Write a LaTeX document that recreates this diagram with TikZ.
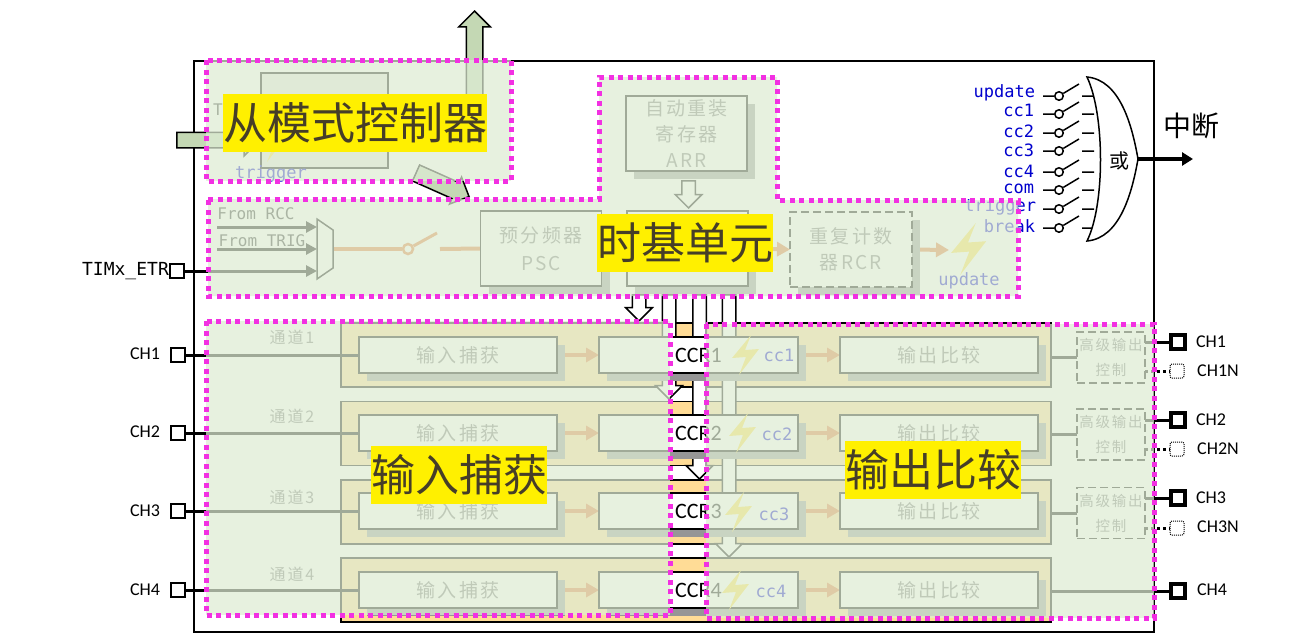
\documentclass[tikz,border=0pt]{standalone}
\usepackage{fontspec}
\usepackage{xcolor}
\usepackage{tikz}
\usetikzlibrary{arrows.meta}
\usetikzlibrary{backgrounds}
\usetikzlibrary{shadows}
\usetikzlibrary{shapes,shapes.arrows}
\setmainfont{Carlito}
\newfontfamily\cjk{Noto Sans CJK SC}
\newfontfamily\cjkw[LetterSpace=12]{Noto Sans CJK SC}
\newfontfamily\mono{DejaVu Sans Mono}
\pgfdeclarelayer{edgelayer}
\pgfdeclarelayer{nodelayer}
\pgfsetlayers{background,edgelayer,nodelayer,main}
\definecolor{veil}{RGB}{222,236,212}
\definecolor{chanfill}{RGB}{255,220,150}
\definecolor{dropgray}{RGB}{150,150,150}
\definecolor{wiretan}{RGB}{228,118,50}
\definecolor{dotpink}{RGB}{242,48,226}
\definecolor{tagyellow}{RGB}{255,240,0}
\definecolor{tagtext}{RGB}{70,62,40}
\definecolor{blockgreen}{RGB}{196,216,180}
\definecolor{boltyellow}{RGB}{255,225,70}
\definecolor{irqblue}{RGB}{0,0,205}
\tikzstyle{none}=[inner sep=0mm]
\tikzstyle{plain}=[inner sep=0pt,outer sep=0pt,align=center]
\tikzstyle{longdash}=[dash pattern=on 8pt off 4pt]
\tikzstyle{chan}=[plain,draw=black,line width=1.5pt,fill=chanfill,minimum width=710pt,minimum height=64pt]
\tikzstyle{drop}=[copy shadow={shadow xshift=8pt,shadow yshift=-8pt,fill=dropgray,draw=none}]
\tikzstyle{wbox}=[plain,draw=black,line width=1.5pt,fill=white,drop]
\tikzstyle{ibox}=[wbox,minimum width=198pt,minimum height=36pt,text=black!55,font=\fontsize{19}{24}\selectfont\cjkw]
\tikzstyle{ccrbox}=[ibox,minimum width=199pt,text=black,font=\fontsize{22}{24}\selectfont]
\tikzstyle{tbox}=[wbox,minimum width=121pt,minimum height=75pt,text=black!55,font=\fontsize{19}{26}\selectfont\cjkw]
\tikzstyle{advbox}=[plain,draw=black,line width=1.2pt,longdash,fill=white,minimum width=68pt,minimum height=51pt,text=black!55,font=\fontsize{14.5}{25}\selectfont\cjkw]
\tikzstyle{pin}=[plain,draw=black,line width=1.5pt,fill=white,minimum size=14pt]
\tikzstyle{pout}=[pin,line width=3.5pt,minimum size=14pt]
\tikzstyle{poutn}=[plain,draw=black,line width=1pt,densely dotted,rounded corners=2pt,fill=white,minimum size=14pt]
\tikzstyle{chtext}=[plain,font=\fontsize{18}{18}\selectfont]
\tikzstyle{ttext}=[plain,text=black!55,font=\fontsize{16}{16}\selectfont\cjkw]
\tikzstyle{mtext}=[plain,text=black!85,font=\fontsize{16}{16}\selectfont\mono]
\tikzstyle{irq}=[plain,anchor=east,text=irqblue,font=\fontsize{17}{17}\selectfont\mono]
\tikzstyle{swc}=[shape=circle,draw=black,line width=1.5pt,fill=white,inner sep=0pt,minimum size=8.5pt]
\tikzstyle{wire}=[line width=3pt,black]
\tikzstyle{wiren}=[line width=3pt,black,dash pattern=on 3pt off 3pt]
\tikzstyle{gwire}=[wire,-{Triangle[length=11pt,width=11pt]}]
\tikzstyle{twire}=[line width=4pt,wiretan,-{Triangle[length=13pt,width=14pt]}]
\tikzstyle{tline}=[line width=4pt,wiretan]
\tikzstyle{bolt}=[fill=boltyellow,draw=none]
\tikzstyle{block}=[shape=single arrow,single arrow head indent=0pt,draw=black,line width=1.5pt,anchor=tip]
\tikzstyle{wblock}=[block,fill=white,inner sep=6pt,single arrow head extend=6.5pt]
\tikzstyle{gblock}=[block,fill=blockgreen,inner sep=7.5pt,single arrow head extend=7.5pt]
\tikzstyle{region}=[fill=veil,fill opacity=0.72,draw=dotpink,line width=5pt,dash pattern=on 5pt off 4.5pt]
\tikzstyle{tag}=[plain,fill=tagyellow,text=tagtext,minimum width=176pt,minimum height=58pt,font=\fontsize{44}{44}\selectfont\cjk]
\begin{document}
\begin{tikzpicture}[x=1pt,y=-1pt]
	\useasboundingbox (0, 0) rectangle (1314, 633);
	\begin{pgfonlayer}{background}
		\fill [white] (0, 0) rectangle (1314, 633);
		\draw [line width=1.3pt, fill=white] (194, 61) rectangle (1154, 632);
		\node [style=chan] (ch1) at (696, 355) {};
		\node [style=chan] (ch2) at (696, 433.5) {};
		\node [style=chan] (ch3) at (696, 512) {};
		\node [style=chan] (ch4) at (696, 590) {};
	\end{pgfonlayer}
	\begin{pgfonlayer}{nodelayer}
		% slave mode controller
		\node [style=plain, draw=black, line width=1.5pt, fill={rgb,255:red,230;green,232;blue,225}, minimum width=127pt, minimum height=95pt] (smc) at (324.5, 120.5) {};
		\node [style=mtext] (ttl) at (218, 110) {T};
		\node [style=irq, anchor=center, text=irqblue] (trg) at (271, 174) {trigger};
		% time base
		\node [style=tbox] (arr) at (686.5, 133.5) {自动重装\\寄存器\\ARR};
		\node [style=tbox] (cnt) at (687.5, 248.5) {};
		\node [style=tbox] (psc) at (541, 248.5) {预分频器\\[2pt]PSC};
		\node [style=tbox, longdash, minimum width=122pt] (rcr) at (851, 249.5) {重复计数\\器RCR};
		\node [style=mtext] (frcc) at (256, 213.5) {From RCC};
		\node [style=mtext] (ftrig) at (262, 240.5) {From TRIG};
		\node [style=swc, minimum size=10pt, line width=2.5pt, draw=wiretan] (csw) at (408, 249) {};
		\node [style=irq, anchor=center] (upd) at (969, 281) {update};
		\node [style=pin] (petr) at (177, 271) {};
		\node [style=chtext, font=\fontsize{18}{18}\selectfont\mono] (letr) at (125.5, 271) {TIMx\_ETR};
		\node [style=none] (m1) at (317, 227) {};
		\node [style=none] (m2) at (317, 249) {};
		\node [style=none] (m3) at (317, 271) {};
		\node [style=none] (f1) at (217, 227) {};
		\node [style=none] (f2) at (217, 249) {};
		\node [style=none] (mo) at (334, 249) {};
		\node [style=none] (st) at (437, 233) {};
		\node [style=none] (so) at (440, 249) {};
		\node [style=none] (ub) at (949, 250) {};
		% channels
		\node [style=ttext] (t1) at (292, 337) {通道1};
		\node [style=ttext] (t2) at (292, 416) {通道2};
		\node [style=ttext] (t3) at (292, 497) {通道3};
		\node [style=ttext] (t4) at (292, 574) {通道4};
		\node [style=ibox] (ic1) at (458, 355) {输入捕获};
		\node [style=ibox] (ic2) at (458, 433) {输入捕获};
		\node [style=ibox] (ic3) at (458, 511) {输入捕获};
		\node [style=ibox] (ic4) at (458, 590) {输入捕获};
		\node [style=ccrbox] (ccr1) at (698.5, 355) {CCR1};
		\node [style=ccrbox] (ccr2) at (698.5, 433) {CCR2};
		\node [style=ccrbox] (ccr3) at (698.5, 511) {CCR3};
		\node [style=ccrbox] (ccr4) at (698.5, 590) {CCR4};
		\node [style=ibox] (oc1) at (939, 355) {输出比较};
		\node [style=ibox] (oc2) at (939, 433) {输出比较};
		\node [style=ibox] (oc3) at (939, 511) {输出比较};
		\node [style=ibox] (oc4) at (939, 590) {输出比较};
		\node [style=irq, anchor=center] (c1) at (779, 355) {cc1};
		\node [style=irq, anchor=center] (c2) at (777, 434) {cc2};
		\node [style=irq, anchor=center] (c3) at (774, 514) {cc3};
		\node [style=irq, anchor=center] (c4) at (771, 591) {cc4};
		\draw [style=bolt, shift={(968, 249)}, scale=1.3] (6, -20) -- (-13, 3) -- (1, 2) -- (-6, 20) -- (14, -6) -- (0, -5) -- cycle;
		\draw [style=bolt, shift={(273, 142)}] (6, -20) -- (-13, 3) -- (1, 2) -- (-6, 20) -- (14, -6) -- (0, -5) -- cycle;
		\draw [style=bolt, shift={(745, 355)}] (6, -20) -- (-13, 3) -- (1, 2) -- (-6, 20) -- (14, -6) -- (0, -5) -- cycle;
		\draw [style=bolt, shift={(742, 433)}] (6, -20) -- (-13, 3) -- (1, 2) -- (-6, 20) -- (14, -6) -- (0, -5) -- cycle;
		\draw [style=bolt, shift={(738, 512)}] (6, -20) -- (-13, 3) -- (1, 2) -- (-6, 20) -- (14, -6) -- (0, -5) -- cycle;
		\draw [style=bolt, shift={(735, 590)}] (6, -20) -- (-13, 3) -- (1, 2) -- (-6, 20) -- (14, -6) -- (0, -5) -- cycle;
		% advanced output
		\node [style=advbox] (adv1) at (1111, 357.5) {高级输出\\控制};
		\node [style=advbox] (adv2) at (1111, 434.5) {高级输出\\控制};
		\node [style=advbox] (adv3) at (1111, 513) {高级输出\\控制};
		% pins
		\node [style=pin] (p1) at (178, 355) {};
		\node [style=pin] (p2) at (178, 433) {};
		\node [style=pin] (p3) at (178, 511) {};
		\node [style=pin] (p4) at (178, 590) {};
		\node [style=chtext] (lp1) at (145, 354) {CH1};
		\node [style=chtext] (lp2) at (145, 432) {CH2};
		\node [style=chtext] (lp3) at (145, 511) {CH3};
		\node [style=chtext] (lp4) at (145, 590) {CH4};
		\node [style=pout] (o1) at (1178, 342) {};
		\node [style=poutn] (n1) at (1177, 371) {};
		\node [style=pout] (o2) at (1178, 420) {};
		\node [style=poutn] (n2) at (1177, 449) {};
		\node [style=pout] (o3) at (1178, 498) {};
		\node [style=poutn] (n3) at (1177, 528) {};
		\node [style=pout] (o4) at (1178, 591) {};
		\node [style=chtext] (lo1) at (1211, 342) {CH1};
		\node [style=chtext] (ln1) at (1218, 371) {CH1N};
		\node [style=chtext] (lo2) at (1211, 420) {CH2};
		\node [style=chtext] (ln2) at (1218, 449) {CH2N};
		\node [style=chtext] (lo3) at (1211, 498) {CH3};
		\node [style=chtext] (ln3) at (1218, 527) {CH3N};
		\node [style=chtext] (lo4) at (1212, 590) {CH4};
		% interrupt gate
		\draw [line width=1.5pt, fill=white] (1087, 77) .. controls (1120, 80) and (1132, 125) .. (1138, 159) .. controls (1132, 193) and (1120, 238) .. (1087, 241) .. controls (1105, 205) and (1105, 115) .. (1087, 77) -- cycle;
		\node [style=plain, font=\fontsize{20}{20}\selectfont\cjk] (or) at (1119, 161) {或};
		\node [style=none] (orout) at (1138, 159) {};
		\node [style=none] (irqout) at (1193, 159) {};
		\node [style=plain, font=\fontsize{28}{28}\selectfont\cjk] (lirq) at (1191, 126) {中断};
		\node [style=irq] (lu) at (1035, 93) {update};
		\node [style=irq] (lc1) at (1034, 110) {cc1};
		\node [style=irq] (lc2) at (1034, 131) {cc2};
		\node [style=irq] (lc3) at (1034, 150) {cc3};
		\node [style=irq] (lc4) at (1034, 171) {cc4};
		\node [style=irq] (lcom) at (1034, 189) {com};
		\node [style=irq] (ltr) at (1036, 207) {trigger};
		\node [style=irq] (lbr) at (1035, 226) {break};
		\node [style=swc] (s1) at (1059, 96) {};
		\node [style=swc] (s2) at (1059, 114) {};
		\node [style=swc] (s3) at (1059, 133) {};
		\node [style=swc] (s4) at (1059, 151) {};
		\node [style=swc] (s5) at (1059, 172) {};
		\node [style=swc] (s6) at (1059, 190) {};
		\node [style=swc] (s7) at (1059, 209) {};
		\node [style=swc] (s8) at (1059, 228) {};
	\end{pgfonlayer}
	\begin{pgfonlayer}{edgelayer}
		% big hollow and green arrows
		\node [style=gblock, minimum height=120pt, rotate=90] (slvup) at (474.5, 10) {};
		\node [style=gblock, minimum height=83pt, inner sep=7pt, single arrow head extend=8pt] (slvin) at (261, 140) {};
		\node [style=gblock, minimum height=58pt, inner sep=8pt, single arrow head extend=6pt, rotate=-24] (slvout) at (470, 197) {};
		\node [style=wblock, minimum height=27pt, rotate=-90] (arrdown) at (688.5, 209) {};
		\node [style=wblock, minimum height=26pt, rotate=-90] (ev0) at (639, 322) {};
		\node [style=wblock, minimum height=104pt, rotate=-90] (ev1) at (669, 400) {};
		\node [style=wblock, minimum height=184pt, rotate=-90] (ev2) at (699.5, 480) {};
		\node [style=wblock, minimum height=262pt, rotate=-90] (ev3) at (729, 558) {};
		% time base wires
		\draw [style=gwire] (f1.center) to (m1.center);
		\draw [style=gwire] (f2.center) to (m2.center);
		\draw [style=gwire] (petr.east) to (m3.center);
		\draw [line width=1.5pt, fill=white] (317, 219) -- (333, 230) -- (333, 268) -- (317, 279) -- cycle;
		\draw [style=tline] (mo.center) to (csw.west);
		\draw [style=tline, line width=3pt] (csw) to (st.center);
		\draw [style=tline] (so.center) to (psc.west);
		\draw [style=tline] (psc.east) to (cnt.west);
		\draw [style=twire] (cnt.east) to (rcr.west);
		\draw [style=twire] (rcr.east) to (ub.center);
		% channel wires
		\draw [style=wire] (p1.east) to (ic1.west);
		\draw [style=wire] (p2.east) to (ic2.west);
		\draw [style=wire] (p3.east) to (ic3.west);
		\draw [style=wire] (p4.east) to (ic4.west);
		\draw [style=twire] (ic1.east) to (ccr1.west);
		\draw [style=twire] (ic2.east) to (ccr2.west);
		\draw [style=twire] (ic3.east) to (ccr3.west);
		\draw [style=twire] (ic4.east) to (ccr4.west);
		\draw [style=twire] (ccr1.east) to (oc1.west);
		\draw [style=twire] (ccr2.east) to (oc2.west);
		\draw [style=twire] (ccr3.east) to (oc3.west);
		\draw [style=twire] (ccr4.east) to (oc4.west);
		\draw [style=wire] (ch1.east |- adv1.west) to (adv1.west);
		\draw [style=wire] (ch2.east |- adv2.west) to (adv2.west);
		\draw [style=wire] (ch3.east |- adv3.west) to (adv3.west);
		\draw [style=wire] (adv1.east |- o1.west) to (o1.west);
		\draw [style=wire] (adv2.east |- o2.west) to (o2.west);
		\draw [style=wire] (adv3.east |- o3.west) to (o3.west);
		\draw [style=wiren] (adv1.east |- n1.west) to (n1.west);
		\draw [style=wiren] (adv2.east |- n2.west) to (n2.west);
		\draw [style=wiren] (adv3.east |- n3.west) to (n3.west);
		\draw [style=wire] (ch4.east |- o4.west) to (o4.west);
		% interrupt switches
		\draw [line width=1.5pt] (1043, 96) -- (s1) -- ++(20, -12) (1082, 96) -- (1094, 96);
		\draw [line width=1.5pt] (1043, 114) -- (s2) -- ++(20, -12) (1082, 114) -- (1094, 114);
		\draw [line width=1.5pt] (1043, 133) -- (s3) -- ++(20, -12) (1082, 133) -- (1094, 133);
		\draw [line width=1.5pt] (1043, 151) -- (s4) -- ++(20, -12) (1082, 151) -- (1094, 151);
		\draw [line width=1.5pt] (1043, 172) -- (s5) -- ++(20, -12) (1082, 172) -- (1094, 172);
		\draw [line width=1.5pt] (1043, 190) -- (s6) -- ++(20, -12) (1082, 190) -- (1094, 190);
		\draw [line width=1.5pt] (1043, 209) -- (s7) -- ++(20, -12) (1082, 209) -- (1094, 209);
		\draw [line width=1.5pt] (1043, 228) -- (s8) -- ++(20, -12) (1082, 228) -- (1094, 228);
	\end{pgfonlayer}
	\draw [style=gwire, line width=3.5pt, -{Triangle[length=11pt,width=13pt]}] (orout.center) to (irqout.center);
	% pale veils with the dotted outlines
	\path [style=region] (206, 60) rectangle (511, 181);
	\path [style=region] (208, 199) -- (599, 199) -- (599, 77) -- (777, 77) -- (777, 200) -- (1018, 200) -- (1018, 296) -- (208, 296) -- cycle;
	\path [style=region] (206, 321) rectangle (670, 615);
	\path [style=region] (706, 324) rectangle (1154, 618);
	% headings
	\node [style=tag, minimum width=264pt] (tslave) at (355, 123) {从模式控制器};
	\node [style=tag] (tbase) at (685, 243) {时基单元};
	\node [style=tag] (tin) at (459, 474.5) {输入捕获};
	\node [style=tag] (tout) at (933, 470) {输出比较};
\end{tikzpicture}
\end{document}
